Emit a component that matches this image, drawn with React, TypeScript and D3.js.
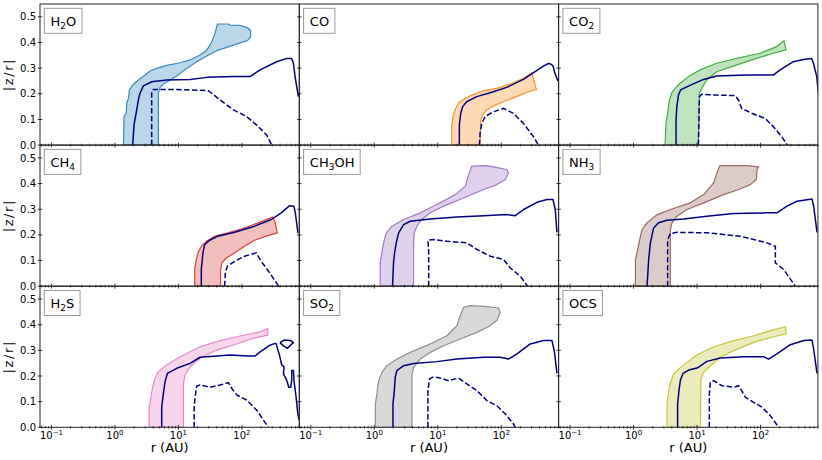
import * as d3 from 'd3'

type Pt = [number, number]

// molecule panels, reading order
const names = ['H2O', 'CO', 'CO2', 'CH4', 'CH3OH', 'NH3', 'H2S', 'SO2', 'OCS']
const colors = ['#1f77b4', '#ff7f0e', '#2ca02c', '#d62728', '#9467bd', '#8c564b', '#e377c2', '#7f7f7f', '#bcbd22']

// [r (AU), |z/r|]
const h2oBand: Pt[] = [[1.36,0],[1.39,0.111],[1.50,0.124],[1.53,0.163],[1.63,0.182],[1.69,0.215],[1.90,0.234],[2.34,0.254],[2.98,0.273],[3.57,0.289],[4.55,0.299],[6.5,0.311],[10.6,0.321],[15.2,0.332],[21.9,0.351],[27.9,0.370],[33.5,0.403],[37.7,0.436],[41.1,0.472],[61,0.472],[65,0.468],[91,0.467],[119,0.459],[137,0.448],[137,0.422],[122,0.407],[83,0.394],[57.5,0.381],[40,0.368],[27.9,0.347],[19.4,0.325],[13.5,0.299],[9.4,0.269],[7.4,0.254],[5.8,0.238],[5.13,0.225],[4.83,0.202],[4.83,0]]
const h2oSolid: Pt[] = [[1.9,0],[1.95,0.039],[2.0,0.08],[2.2,0.137],[2.34,0.176],[2.48,0.202],[2.8,0.231],[3.8,0.247],[6.5,0.254],[15.2,0.256],[28,0.264],[73.5,0.267],[134,0.267],[193,0.293],[352,0.325],[507,0.338],[607,0.338],[646,0.319],[686,0.267],[774,0.189]]
const h2oDash: Pt[] = [[3.79,0],[3.79,0.208],[4.03,0.217],[9.4,0.217],[29.6,0.212],[45.3,0.176],[73.5,0.137],[119,0.111],[171,0.078],[246,0.039],[294,0]]

const coBand: Pt[] = [[16.6,0],[16.6,0.078],[17.6,0.117],[18.7,0.137],[21.1,0.163],[25.3,0.178],[34.3,0.195],[52.3,0.212],[85,0.221],[138,0.238],[223,0.260],[302,0.282],[321,0.260],[349,0.225],[362,0.217],[268,0.208],[175,0.189],[108,0.169],[75,0.152],[59,0.137],[51,0.117],[47.5,0.098],[46.4,0]]
const coSolid: Pt[] = [[21.9,0],[21.9,0.078],[23,0.124],[24.7,0.150],[28.6,0.169],[41.1,0.189],[66.7,0.204],[122,0.225],[223,0.256],[341,0.286],[461,0.308],[553,0.318],[600,0.316],[650,0.31],[700,0.28],[780,0.25]]
const coDash: Pt[] = [[45.3,0],[46.4,0.046],[49.3,0.085],[55.6,0.111],[75.3,0.130],[108,0.143],[155,0.124],[223,0.085],[321,0.033],[385,0]]

const co2Band: Pt[] = [[3.13,0],[3.25,0.091],[3.41,0.117],[3.67,0.176],[3.99,0.204],[4.5,0.221],[5.4,0.241],[7.3,0.267],[11.1,0.293],[20.4,0.319],[42.2,0.338],[98,0.358],[180,0.384],[234,0.407],[252,0.371],[159,0.358],[77,0.334],[37.3,0.308],[20.4,0.286],[14.2,0.254],[11.9,0.221],[10.9,0.202],[10.5,0]]
const co2Solid: Pt[] = [[4.67,0],[4.67,0.098],[4.8,0.150],[5.1,0.195],[5.5,0.215],[7.3,0.230],[12.6,0.256],[20.4,0.269],[60.5,0.273],[159,0.273],[203,0.293],[329,0.325],[473,0.334],[640,0.338],[680,0.319],[768,0.267],[813,0.202]]
const co2Dash: Pt[] = [[10.5,0],[10.9,0.189],[11.9,0.198],[20.4,0.195],[39.6,0.193],[44.8,0.176],[50.5,0.143],[72.6,0.124],[118,0.104],[159,0.072],[215,0.033],[265,0]]

const ch4Band: Pt[] = [[18,0],[18,0.071],[19.1,0.104],[20.3,0.130],[22.9,0.156],[27.4,0.175],[37.1,0.195],[60.2,0.208],[97.7,0.223],[179,0.247],[308,0.270],[335,0.247],[360,0.208],[257,0.197],[158,0.179],[110,0.156],[76.7,0.130],[56.6,0.110],[48.4,0.091],[46.1,0.065],[46.1,0]]
const ch4Solid: Pt[] = [[22.9,0],[22.9,0.065],[24.3,0.130],[25.8,0.162],[31,0.179],[41.9,0.195],[76.7,0.210],[158,0.234],[290,0.260],[416,0.286],[563,0.314],[659,0.312],[692,0.286],[762,0.208]]
const ch4Dash: Pt[] = [[53.3,0],[54.7,0.052],[58.8,0.078],[76.7,0.097],[110,0.117],[168,0.130],[201,0.097],[273,0.052],[378,0]]

const ch3ohBand: Pt[] = [[1.24,0],[1.24,0.091],[1.34,0.143],[1.44,0.182],[1.55,0.208],[1.9,0.234],[2.9,0.260],[5.3,0.286],[10.9,0.325],[18.9,0.357],[27.1,0.390],[30.6,0.435],[34.5,0.468],[59.4,0.470],[90.8,0.461],[123,0.455],[130,0.442],[116,0.416],[85.5,0.396],[52.7,0.377],[25.5,0.344],[12.4,0.312],[7.6,0.286],[5.6,0.260],[4.7,0.234],[4.27,0.208],[4.16,0.169],[4.16,0]]
const ch3ohSolid: Pt[] = [[1.94,0],[2.01,0.091],[2.09,0.130],[2.22,0.169],[2.42,0.208],[2.9,0.240],[3.69,0.253],[7.6,0.262],[20,0.270],[52.7,0.275],[123,0.279],[166,0.275],[225,0.299],[365,0.327],[524,0.338],[651,0.338],[709,0.299],[754,0.210]]
const ch3ohDash: Pt[] = [[7.2,0],[7.2,0.130],[7.0,0.179],[8.6,0.182],[13.9,0.175],[28.8,0.169],[41.4,0.143],[67.1,0.117],[109,0.104],[139,0.071],[199,0.039],[260,0]]

const nh3Band: Pt[] = [[1.07,0],[1.07,0.104],[1.16,0.143],[1.25,0.182],[1.36,0.221],[1.63,0.247],[2.34,0.279],[3.79,0.299],[7.83,0.325],[12.7,0.357],[18.3,0.403],[20.6,0.442],[22.8,0.470],[61.2,0.470],[93.5,0.465],[88.2,0.455],[86,0.416],[69.2,0.396],[45.3,0.377],[26.3,0.357],[12.7,0.325],[6.95,0.299],[4.83,0.273],[4.03,0.247],[3.79,0.221],[3.79,0]]
const nh3Solid: Pt[] = [[1.63,0],[1.73,0.104],[1.84,0.169],[2.07,0.227],[2.48,0.247],[3.36,0.257],[6.15,0.262],[14.3,0.273],[37.7,0.283],[126,0.286],[181,0.286],[261,0.312],[374,0.331],[646,0.340],[686,0.312],[774,0.210]]
const nh3Dash: Pt[] = [[3.44,0],[3.44,0.182],[3.79,0.205],[4.83,0.210],[14.3,0.208],[48.1,0.195],[126,0.169],[171,0.156],[171,0.091],[231,0.065],[353,0]]

const h2sBand: Pt[] = [[3.44,0],[3.44,0.074],[3.66,0.113],[3.93,0.158],[4.28,0.191],[4.83,0.217],[6.53,0.243],[10.6,0.275],[21.9,0.314],[45.3,0.338],[93.5,0.356],[193,0.372],[255,0.385],[255,0.359],[152,0.347],[73.5,0.321],[40.1,0.301],[21.9,0.269],[15.2,0.236],[12.7,0.204],[12,0.171],[12,0]]
const h2sSolid: Pt[] = [[5.45,0],[5.45,0.080],[5.8,0.132],[6.15,0.178],[6.7,0.210],[9.4,0.230],[15.2,0.249],[21.9,0.273],[64.9,0.282],[126,0.278],[161,0.278],[193,0.294],[277,0.320],[333,0.327],[344,0.327],[389,0.282],[423,0.243],[460,0.236],[450,0.208],[507,0.184],[546,0.156],[586,0.156],[608,0.184],[608,0.221],[646,0.221],[662,0.178],[712,0.119],[757,0.054],[794,0.029]]
const h2sLoop: Pt[] = [[398,0.330],[460,0.340],[586,0.338],[646,0.330],[586,0.321],[520,0.308],[450,0.317],[398,0.330]]
const h2sDash: Pt[] = [[17.7,0],[17.7,0.080],[18.3,0.119],[19.4,0.161],[21.9,0.165],[31.5,0.156],[45.3,0.165],[61.2,0.174],[69,0.152],[82.8,0.126],[119,0.106],[171,0.067],[218,0.028],[261,0]]

const so2Band: Pt[] = [[1.04,0],[1.04,0.091],[1.1,0.130],[1.17,0.182],[1.32,0.214],[1.58,0.240],[2.27,0.266],[3.69,0.292],[7.6,0.325],[13.9,0.357],[20,0.396],[22.6,0.435],[25.5,0.468],[32.5,0.474],[63.1,0.470],[90.8,0.465],[96.4,0.448],[85.5,0.416],[63.1,0.392],[41.4,0.370],[22.6,0.344],[12.4,0.318],[7.6,0.292],[5.3,0.266],[4.16,0.234],[3.92,0.201],[3.92,0]]
const so2Solid: Pt[] = [[1.97,0],[1.97,0.091],[2.07,0.143],[2.14,0.195],[2.27,0.221],[2.9,0.240],[4.16,0.249],[9.7,0.256],[20,0.266],[52.7,0.273],[96.4,0.273],[130,0.266],[177,0.286],[286,0.325],[464,0.338],[628,0.338],[684,0.299],[754,0.210]]
const so2Dash: Pt[] = [[7.0,0],[7.0,0.143],[7.4,0.188],[8.6,0.197],[10.9,0.192],[14.8,0.182],[21.3,0.192],[28.8,0.169],[41.4,0.143],[59.4,0.104],[85.5,0.084],[116,0.052],[156,0.013],[166,0]]

const ocsBand: Pt[] = [[3.36,0],[3.36,0.091],[3.57,0.143],[3.89,0.182],[4.28,0.208],[5.13,0.227],[6.95,0.253],[10,0.283],[18.3,0.314],[37.8,0.338],[78,0.357],[143,0.377],[246,0.392],[255,0.364],[161,0.353],[78,0.331],[37.8,0.299],[23.3,0.273],[16.2,0.240],[12.7,0.214],[11.5,0.188],[11.3,0]]
const ocsSolid: Pt[] = [[4.94,0],[4.94,0.091],[5.19,0.143],[5.45,0.182],[6.0,0.210],[7.4,0.223],[10,0.231],[14.3,0.257],[23.3,0.270],[54.3,0.275],[112,0.275],[134,0.266],[181,0.286],[294,0.322],[477,0.338],[646,0.340],[686,0.305],[774,0.210]]
const ocsDash: Pt[] = [[15.6,0],[15.6,0.130],[16.2,0.175],[18.3,0.182],[24.7,0.162],[37.8,0.156],[45.3,0.162],[57.7,0.117],[78,0.097],[106,0.078],[143,0.045],[193,0]]

const bands = [h2oBand, coBand, co2Band, ch4Band, ch3ohBand, nh3Band, h2sBand, so2Band, ocsBand]
const solids = [[h2oSolid], [coSolid], [co2Solid], [ch4Solid], [ch3ohSolid], [nh3Solid], [h2sSolid, h2sLoop], [so2Solid], [ocsSolid]]
const dashes = [h2oDash, coDash, co2Dash, ch4Dash, ch3ohDash, nh3Dash, h2sDash, so2Dash, ocsDash]

const xDomain = [0.066, 800]
const yDomain = [0, 0.55]
const yTicks = [0, 0.1, 0.2, 0.3, 0.4, 0.5]

const FONT = 'DejaVu Sans, sans-serif'
// rough DejaVu Sans advance widths (em) for the label box
const charW: Record<string, number> = { C: 0.698, H: 0.752, O: 0.787, N: 0.748, S: 0.635 }

function Label({ name }: { name: string }) {
  const parts = name.split(/(\d)/).filter(s => s !== '')
  let w = 0
  parts.forEach(p => {
    if (/\d/.test(p)) w += 0.636 * 9
    else for (const ch of p) w += (charW[ch] ?? 0.7) * 13
  })
  return (
    <g>
      <rect x={4.3} y={4.3} width={w + 12} height={25} fill="#fff" stroke="#999" strokeWidth={1} />
      <text x={10.5} y={21.6} fontSize={13} fontFamily={FONT} fill="#000">
        {parts.map((p, i) => {
          const sub = /\d/.test(p)
          const prevSub = i > 0 && /\d/.test(parts[i - 1])
          return (
            <tspan key={i} fontSize={sub ? 9 : 13} dy={sub ? 3 : prevSub ? -3 : 0}>{p}</tspan>
          )
        })}
      </text>
    </g>
  )
}

export default function App() {
  const W = 822, H = 460
  const left = 40, top = 4, pw = 259.3, ph = 141.1

  const x = d3.scaleLog().domain(xDomain).range([0, pw])
  const y = d3.scaleLinear().domain(yDomain).range([ph, 0])
  const line = d3.line<Pt>().x(d => x(d[0])).y(d => y(d[1]))

  const allTicks = x.ticks()
  const isMajor = (v: number) => Math.abs(Math.log10(v) - Math.round(Math.log10(v))) < 1e-6
  const majors = allTicks.filter(isMajor)
  const minors = allTicks.filter(v => !isMajor(v))

  return (
    <svg width={W} height={H} style={{ position: 'absolute', left: 0, top: 0, background: '#fff' }}>
      <defs>
        <clipPath id="panel-clip">
          <rect x={0} y={0} width={pw} height={ph} />
        </clipPath>
      </defs>
      {names.map((name, i) => {
        const row = Math.floor(i / 3)
        const col = i % 3
        const color = colors[i]
        return (
          <g key={name} transform={`translate(${left + col * pw},${top + row * ph})`}>
            <g clipPath="url(#panel-clip)">
              <path d={line([...bands[i], bands[i][0]]) ?? ''} fill={color} fillOpacity={0.3}
                stroke={color} strokeOpacity={0.85} strokeWidth={1.2} strokeLinejoin="round" />
              {solids[i].map((s, k) => (
                <path key={k} d={line(s) ?? ''} fill="none" stroke="#000080" strokeWidth={1.5} strokeLinejoin="round" />
              ))}
              <path d={line(dashes[i]) ?? ''} fill="none" stroke="#000080" strokeWidth={1.5} strokeDasharray="5.5,2.4" />
            </g>

            {/* ticks */}
            {yTicks.map(v => (
              <line key={v} x1={-2.2} x2={2.2} y1={y(v)} y2={y(v)} stroke="#000" strokeWidth={0.8} />
            ))}
            {majors.map(v => (
              <line key={v} x1={x(v)} x2={x(v)} y1={ph - 2.4} y2={ph + 2.4} stroke="#000" strokeWidth={0.8} />
            ))}
            {minors.map(v => (
              <line key={v} x1={x(v)} x2={x(v)} y1={ph - 1.4} y2={ph + 1.4} stroke="#000" strokeWidth={0.6} />
            ))}

            {col === 0 && yTicks.map(v => (
              <text key={v} x={-4} y={y(v) + 3.6} textAnchor="end" fontSize={10} fontFamily={FONT}>
                {d3.format('.1f')(v)}
              </text>
            ))}
            {col === 0 && (
              <text transform={`translate(-27.5,${ph / 2}) rotate(-90)`} textAnchor="middle"
                fontSize={13} fontFamily={FONT} letterSpacing={1.6}>|z/r|</text>
            )}
            {row === 2 && majors.map(v => {
              const e = Math.round(Math.log10(v))
              return (
                <text key={v} x={x(v)} y={ph + 12} textAnchor="middle" fontSize={10} fontFamily={FONT}>
                  10<tspan fontSize={7} dy={-4}>{e < 0 ? `\u2212${-e}` : `${e}`}</tspan>
                </text>
              )
            })}
            {row === 2 && (
              <text x={pw / 2} y={ph + 25} textAnchor="middle" fontSize={13} fontFamily={FONT}>r (AU)</text>
            )}

            <Label name={name} />
            <rect x={0} y={0} width={pw} height={ph} fill="none" stroke="#222" strokeWidth={1} />
          </g>
        )
      })}
    </svg>
  )
}
